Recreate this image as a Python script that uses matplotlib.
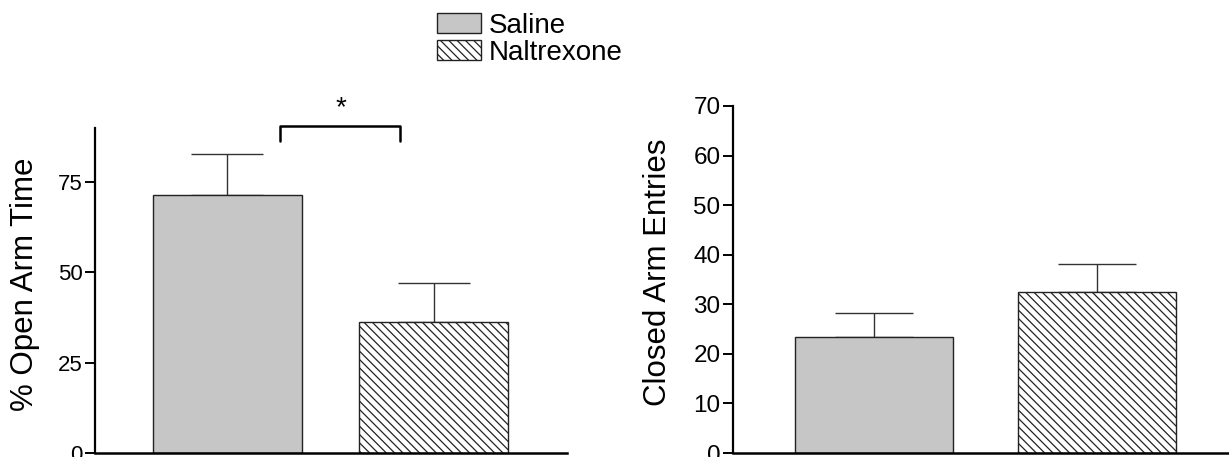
import matplotlib
matplotlib.use("Agg")
import matplotlib.pyplot as plt
from matplotlib.patches import Patch

plt.rcParams['font.family'] = ['Liberation Sans', 'DejaVu Sans']
plt.rcParams['hatch.linewidth'] = 0.9
plt.rcParams['hatch.color'] = '#333333'

groups = ["Saline", "Naltrexone"]
open_time = [71.4, 36.4]
open_err = [11.4, 10.8]
closed_entries = [23.4, 32.4]
closed_err = [4.8, 5.8]

open_ticks = [0, 25, 50, 75]
closed_ticks = [0, 10, 20, 30, 40, 50, 60, 70]

fills = ['#c6c6c6', 'white']
hatches = [None, '\\\\\\\\']

W, H = 1229, 457
fig = plt.figure(figsize=(W / 100, H / 100), dpi=100)

def px_axes(x0, x1, ytop, ybot=453):
    return fig.add_axes([x0 / W, (H - ybot) / H, (x1 - x0) / W, (ybot - ytop) / H])

def draw_panel(ax, vals, errs, ticks, ylim, xlim, width, capsize, ylabel, tsize):
    x = list(range(len(vals)))
    for i in x:
        ax.bar(x[i], vals[i], width=width, color=fills[i], hatch=hatches[i],
               edgecolor='#222222', linewidth=1.0, zorder=2)
    ax.errorbar(x, vals, yerr=[[0] * len(vals), errs], fmt='none',
                ecolor='#333333', elinewidth=1.0, capsize=capsize, capthick=1.0, zorder=1)
    ax.set_ylim(*ylim)
    ax.set_xlim(*xlim)
    ax.set_yticks(ticks)
    ax.set_xticks([])
    ax.spines['top'].set_visible(False)
    ax.spines['right'].set_visible(False)
    ax.spines['left'].set_linewidth(1.6)
    ax.spines['bottom'].set_linewidth(1.8)
    ax.tick_params(axis='y', direction='out', length=7, width=1.4, labelsize=tsize, pad=2)
    ax.set_ylabel(ylabel, fontsize=22.5)
    ax.patch.set_alpha(0)

ax1 = px_axes(95, 567, 128)
draw_panel(ax1, open_time, open_err, open_ticks, (0, 90), (-0.638, 1.643), 0.72, 26,
           "% Open Arm Time", 16)
ax1.yaxis.set_label_coords(-(95 - 40) / 472, 0.52)

# significance bracket
bx = [0.256, 0.256, 0.836, 0.836]
by = [86.4, 90.5, 90.5, 86.4]
ax1.plot(bx, by, color='black', linewidth=1.8, clip_on=False,
         solid_joinstyle='round', solid_capstyle='round')
ax1.text(0.55, 95.5, "*", fontsize=20, ha='center', va='center', clip_on=False)

ax2 = px_axes(733, 1229, 106)
draw_panel(ax2, closed_entries, closed_err, closed_ticks, (0, 70), (-0.632, 1.592), 0.71, 28,
           "Closed Arm Entries", 17.5)
ax2.yaxis.set_label_coords(-(733 - 673) / 496, 0.52)

handles = [Patch(facecolor=fills[i], edgecolor='#222222', hatch=hatches[i], linewidth=1.0)
           for i in range(len(groups))]
fig.legend(handles=handles, labels=groups, loc='upper left',
           bbox_to_anchor=(437 / W, 1 - 13 / H), frameon=False, fontsize=20,
           handlelength=1.6, handleheight=0.72, handletextpad=0.28,
           labelspacing=0.02, borderpad=0, borderaxespad=0)

fig.savefig("out.png", dpi=100)
